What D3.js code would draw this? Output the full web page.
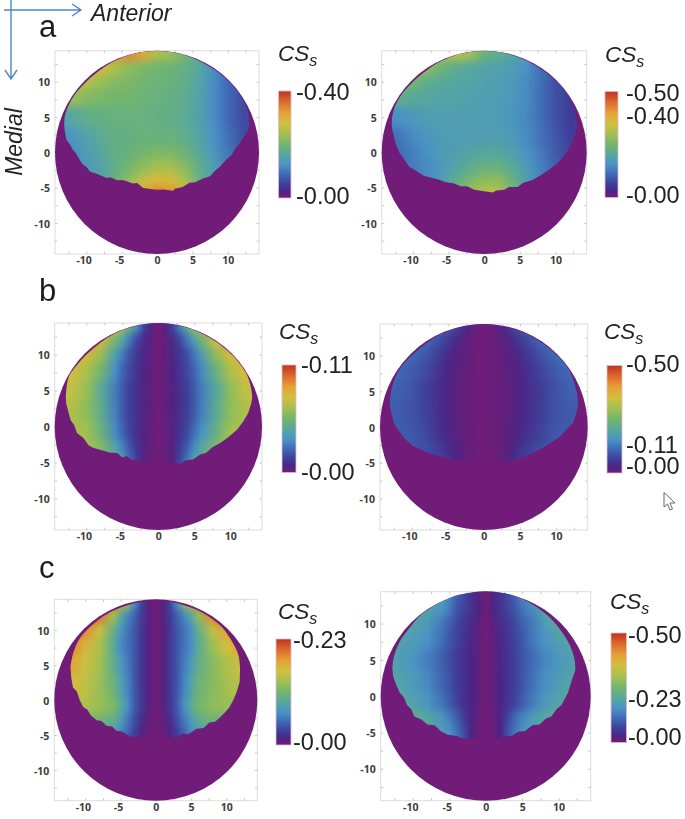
<!DOCTYPE html>
<html><head><meta charset="utf-8">
<script src="https://cdnjs.cloudflare.com/ajax/libs/d3/7.8.5/d3.min.js"></script>
<style>html,body{margin:0;padding:0;background:#fff}svg{display:block}text{font-family:"Liberation Sans",Arial,sans-serif}</style>
</head><body><div id="c"></div>
<script>
// --- palette: position along the bar (0..1) and colour
const barPositions=[0,.06,.13,.22,.31,.40,.50,.60,.70,.80,.90,1];
const barColors=["#701c78","#4d2484","#3f3f9a","#4069b4","#4a93c6","#55a79f","#72b56e","#a3c050","#d1c03e","#e5a036","#da6a2c","#c2321f"];

// --- shared x grid for the fields (mm)
const colsSmooth=[-14,-12,-10,-8,-6,-4,-2,0,2,4,6,8,10,12,14];
const colsFine=[-14,-12,-10,-8,-6,-5,-4,-3,-2,-1,0,1,2,3,4,5,6,8,10,12,14];
const rowsA=[14,12,10,8,5,2,0,-2,-4,-5.5];
const rowsBC=[14,12,10,8,5,2,-1,-3,-5];

// --- field values, percent of each group's peak |CSs|
const peakA=0.40, peakB=0.11, peakC=0.23, peakD=0.50;
const fieldA=[
[82,82,82,82,82,84,78,62,58,50,42,32,25,20,18],
[72,72,72,72,62,56,52,50,48,45,40,30,24,18,16],
[64,64,64,58,54,52,50,48,47,44,38,30,22,18,16],
[58,58,54,52,50,50,48,47,46,43,38,30,22,16,14],
[38,40,44,46,47,47,47,46,45,42,37,30,22,16,14],
[30,32,38,42,45,46,47,47,47,44,38,31,24,17,14],
[28,30,35,40,45,47,50,52,52,48,41,33,25,19,15],
[28,30,34,38,44,50,56,60,60,54,44,35,27,20,16],
[28,30,34,38,46,56,66,72,72,60,46,36,28,20,16],
[28,30,34,38,48,60,76,84,82,66,48,36,28,20,16]];
const fieldB=[
[90,90,90,90,72,60,46,30,14,5,0,4,14,28,44,58,70,90,90,90,90],
[85,85,85,72,50,38,25,14,8,3,0,3,8,14,25,36,48,70,85,85,85],
[80,80,72,58,36,26,17,11,7,3,0,3,7,11,16,25,35,56,72,80,80],
[74,72,62,50,30,21,15,10,6,3,0,3,6,10,15,21,29,47,62,72,74],
[68,66,58,42,26,19,13,9,5,3,0,3,5,9,13,19,26,40,56,66,68],
[64,62,56,44,27,19,13,9,5,3,0,3,5,9,13,19,27,42,56,62,64],
[62,62,60,48,29,21,14,9,5,2,0,2,5,10,15,23,31,46,60,62,62],
[60,60,60,54,38,28,18,11,5,2,0,2,5,12,20,30,40,54,60,60,60],
[58,58,58,56,46,36,24,13,4,1,0,1,4,15,26,38,48,56,58,58,58]];
const fieldC=[
[98,98,98,98,90,78,58,30,14,4,0,4,14,30,56,76,88,98,98,98,98],
[98,98,98,88,60,42,28,20,12,4,0,4,12,20,28,40,56,84,98,98,98],
[92,92,84,68,46,32,25,18,11,4,0,4,11,18,24,30,44,66,80,92,95],
[86,84,74,62,42,30,24,18,11,4,0,4,11,18,24,30,42,58,70,80,85],
[80,78,68,60,44,34,26,18,11,4,0,4,11,18,26,34,44,54,62,68,72],
[74,72,66,58,48,38,28,18,11,4,0,4,11,18,28,38,48,54,60,64,66],
[64,62,62,58,52,42,30,19,11,4,0,4,11,19,30,42,50,56,58,58,58],
[46,46,48,50,44,34,25,16,8,2,0,2,8,16,25,34,42,48,46,46,46],
[30,30,30,32,32,28,20,12,4,1,0,1,4,12,20,28,32,32,30,30,30]];
const fieldD=[
[38,38,38,38,34,28,20,15,10,5,0,5,10,15,20,28,34,42,42,42,42],
[38,38,38,38,32,26,18,14,10,6,0,6,10,14,18,24,28,38,42,42,42],
[40,40,38,34,25,20,15,11,8,4,0,4,8,11,15,20,24,34,42,44,44],
[38,38,35,31,23,18,14,10,7,3,0,3,7,10,14,18,23,31,37,40,40],
[38,36,32,27,20,16,12,9,6,3,0,3,7,10,13,17,21,28,33,37,38],
[40,38,34,29,21,17,12,9,6,3,0,3,6,10,13,18,22,30,35,39,40],
[42,41,37,32,24,19,14,9,6,3,0,3,6,10,14,19,24,33,38,41,42],
[44,44,44,40,33,27,20,13,6,2,0,2,6,14,22,28,33,40,44,44,44],
[44,44,44,42,35,31,24,16,6,1,0,1,6,17,25,31,35,42,44,44,44]];

// --- lens outlines in mm: upper arc (smooth) then lower edge (jagged), one per panel
const arcTop=[[11.7,8.2],[10.4,9.8],[8.7,11.3],[6.5,12.7],[4.2,13.7],[2,14.2],[0,14.35],[-2,14.2],[-4.2,13.7],[-6.5,12.7],[-8.5,11.3],[-10.3,9.7],[-11.6,8.2]];
const upperAL=[[13.05,4],[12.95,5.2],[12.6,6.6],...arcTop,[-12.5,6.6],[-13,5.2],[-13.1,4]];
const lowerAL=[[-13.05,3.2],[-12.8,1.8],[-12.3,1.1],[-11.9,.4],[-11.4,-.2],[-10.9,-1.1],[-10.5,-1.7],[-9.9,-2.1],[-9.5,-2.7],[-8.6,-3],[-7.2,-3.6],[-6.5,-3.55],[-5.6,-3.95],[-4.9,-3.9],[-4.3,-4.1],[-3.4,-4.4],[-2.8,-4.35],[-2,-5],[-1,-5.2],[0,-5.3],[1,-5.25],[2.3,-5.45],[2.5,-5.15],[3.6,-4.9],[4.6,-4.3],[5.4,-4.25],[6.5,-3.7],[7.5,-3.4],[8,-2.8],[8.9,-2],[9.8,-1],[10.6,-.3],[11.1,.6],[11.7,1.3],[12.3,2.3],[12.9,3.2]];
const upperAR=[[13.05,3.6],[12.9,5],[12.5,6.6],...arcTop,[-12.5,6.6],[-12.9,5.2],[-13,4]];
const lowerAR=[[-12.9,3.2],[-12.5,1.4],[-12,.1],[-11.5,-.6],[-10.6,-2],[-9.6,-2.6],[-8.5,-3.3],[-7.4,-3.6],[-6.2,-3.9],[-5.5,-4.2],[-4.2,-4.4],[-3.3,-4.8],[-2.4,-4.8],[-1.4,-5.3],[0,-5.5],[1.2,-5.7],[1.7,-5.4],[2.8,-5.3],[3.5,-4.9],[4.7,-4.9],[5.5,-4.3],[6.8,-3.9],[8,-3.2],[9.2,-2.4],[10.3,-1.5],[11.2,-.5],[12.2,1],[12.8,2.6]];
const upperBL=[[13.05,4],[12.9,5.3],[12.4,7],...arcTop,[-12.4,7],[-12.75,5.5],[-12.85,4]];
const lowerBL=[[-12.8,3.2],[-12.2,.9],[-11.7,.2],[-11.3,-.9],[-10.4,-1.6],[-9.7,-2.6],[-9,-3],[-7.8,-3.3],[-6.8,-3.6],[-5.7,-3.7],[-5,-4.3],[-4.4,-4.1],[-3.6,-4.7],[-3,-4.5],[-2.2,-5],[-.9,-5.1],[.7,-5.1],[1.8,-5],[3,-5.2],[3.8,-4.7],[4.8,-4.6],[5.8,-3.9],[6.6,-3.7],[7.6,-2.8],[8.6,-2.3],[9.7,-1.5],[10.9,-.5],[11.8,.7],[12.5,1.9],[12.9,3.2]];
const upperBR=[[13.05,3.2],[12.9,4.8],[12.4,6.6],...arcTop,[-12.4,6.6],[-12.9,4.8],[-13.05,3.2]];
const lowerBR=[[-12.9,2.2],[-12.4,.4],[-11.9,-.4],[-11,-1.6],[-9.8,-2.7],[-8,-3.5],[-6.1,-4.1],[-4.4,-4.5],[-2.4,-4.8],[0,-5],[3.1,-5],[5.5,-4.2],[7.8,-3.1],[9.3,-2.2],[10.6,-1.3],[11.6,-.2],[12.4,.6],[12.9,2.2]];
const upperCL=[[11.95,4.5],[11.7,6.5],[10.5,8.9],[9.2,10.6],[7.7,11.8],[5.8,12.9],[3.9,13.6],[2,14.05],[0,14.2],[-2,14.05],[-3.9,13.6],[-6,12.8],[-8,11.6],[-9.5,10.3],[-10.8,8.8],[-11.7,6.8],[-12.1,4.8]];
const lowerCL=[[-12,3.2],[-11.75,1.8],[-11.2,1.2],[-10.8,0],[-10.3,-1],[-9.7,-1.4],[-9.2,-2.2],[-8.4,-2.9],[-7.7,-3],[-7,-3.7],[-6.2,-3.8],[-5.6,-4.4],[-4.8,-4.5],[-4,-5],[-3.2,-5.3],[-.6,-5.4],[1,-5.4],[2.9,-5.4],[3.8,-4.8],[4.6,-4.9],[5.8,-4.1],[6.8,-4],[7.6,-3.2],[8.4,-3.1],[9.1,-2.5],[9.8,-1.8],[10.4,-1.1],[11,0],[11.5,1.2],[11.9,2.6]];
const upperCR=[[12.3,3.6],[12.2,5],[11.6,6.9],[10.4,8.9],[8.6,11],[6.5,12.6],[4,13.8],[2,14.3],[0,14.45],[-2,14.3],[-4.3,13.8],[-6.8,12.6],[-8.9,11.2],[-10.6,9.2],[-11.8,7.5],[-12.6,5.4],[-12.8,3.8]];
const lowerCR=[[-12.7,2.8],[-12.3,1.6],[-11.8,.5],[-11.2,-.2],[-10.8,-1.2],[-10.2,-1.8],[-9.8,-2.8],[-8.8,-3.2],[-8,-3.9],[-7,-4],[-6.2,-4.8],[-5.2,-5.3],[-4,-5.5],[-3,-5.9],[-2,-5.9],[1.7,-5.9],[2.8,-5.5],[3.6,-5.5],[4.4,-4.9],[5.4,-4.8],[6.4,-4],[7.4,-3.9],[8.2,-3.1],[9,-2.8],[9.7,-1.8],[10.4,-1.2],[11.3,.5],[11.8,2.2]];

// --- axis and colour bar labels
const axisTicks=[-10,-5,0,5,10];
const minorTicks=d3.range(-12.5,13,2.5);
const groupNames=["a","b","c"];
const labelsAL=[0.40,0], labelsAR=[0.50,0.40,0], labelsBL=[0.11,0], labelsBR=[0.50,0.11,0], labelsCL=[0.23,0], labelsCR=[0.50,0.23,0];

const fields={A:{cols:colsSmooth,rows:rowsA,vals:fieldA,peak:peakA},
              B:{cols:colsFine,rows:rowsBC,vals:fieldB,peak:peakB},
              C:{cols:colsFine,rows:rowsBC,vals:fieldC,peak:peakC},
              D:{cols:colsFine,rows:rowsBC,vals:fieldD,peak:peakD}};

// layout of the six panels (pixels); top is the |CSs| at the red end of the colour mapping
const panels=[
 {f:"A",top:.40,upper:upperAL,lower:lowerAL,labels:labelsAL,fx:[55,259],fy:[50.7,254],bx:[278.5,291],by:[91,198],lx:296,ly:[92,196],cx:278,cy:61},
 {f:"A",top:.52,upper:upperAR,lower:lowerAR,labels:labelsAR,fx:[381.7,586.7],fy:[50.7,254],bx:[605,618],by:[91.5,197.5],lx:626,ly:[93,116,195],cx:605,cy:62},
 {f:"B",top:.11,upper:upperBL,lower:lowerBL,labels:labelsBL,fx:[54.7,262],fy:[323,530],bx:[282,296],by:[365,472.5],lx:301,ly:[365,472],cx:279,cy:339},
 {f:"B",top:.36,upper:upperBR,lower:lowerBR,labels:labelsBR,fx:[380,587.7],fy:[324,530],bx:[607,622],by:[365.5,473],lx:626,ly:[364,445,466],cx:604,cy:339},
 {f:"C",top:.23,upper:upperCL,lower:lowerCL,labels:labelsCL,fx:[54.3,257.3],fy:[599.3,800.7],bx:[276,291],by:[639,745],lx:293,ly:[640,742],cx:278,cy:619},
 {f:"D",top:.50,upper:upperCR,lower:lowerCR,labels:labelsCR,fx:[380.7,590.7],fy:[591.7,800.7],bx:[611,626.5],by:[633,742.5],lx:628,ly:[635,699,737],cx:610,cy:609}
];
const letters=[{t:groupNames[0],y:37},{t:groupNames[1],y:301},{t:groupNames[2],y:578}];

const W=685,H=819;
const svg=d3.select("#c").append("svg").attr("width",W).attr("height",H);
const defs=svg.append("defs");
const soft=defs.append("filter").attr("id","soft").attr("x","-5%").attr("y","-5%").attr("width","110%").attr("height","110%");
soft.append("feGaussianBlur").attr("stdDeviation",0.5).attr("color-interpolation-filters","sRGB");
const textSoft=defs.append("filter").attr("id","tsoft").attr("x","-5%").attr("y","-10%").attr("width","110%").attr("height","120%");
textSoft.append("feGaussianBlur").attr("stdDeviation",0.3).attr("color-interpolation-filters","sRGB");

const barScale=d3.scaleLinear().domain(barPositions).range(barColors).interpolate(d3.interpolateRgb).clamp(true);
const lineSmooth=d3.line().curve(d3.curveCatmullRom);
const lineJag=d3.line();

panels.forEach((p,pi)=>{
  const fd=fields[p.f];
  const x=d3.scaleLinear().domain([-14.4,14.4]).range(p.fx);
  const y=d3.scaleLinear().domain([-14.4,14.4]).range([p.fy[1],p.fy[0]]);
  const color=v=>barScale(v/p.top);
  const g=svg.append("g");

  // frame
  g.append("rect").attr("x",p.fx[0]).attr("y",p.fy[0]).attr("width",p.fx[1]-p.fx[0]).attr("height",p.fy[1]-p.fy[0])
    .attr("fill","none").attr("stroke","#dcdcdc").attr("stroke-width",1);
  const minorB=d3.axisBottom(x).tickValues(minorTicks).tickSize(-2.5).tickFormat("");
  const minorT=d3.axisTop(x).tickValues(minorTicks).tickSize(-2.5).tickFormat("");
  const minorL=d3.axisLeft(y).tickValues(minorTicks).tickSize(-2.5).tickFormat("");
  const minorR=d3.axisRight(y).tickValues(minorTicks).tickSize(-2.5).tickFormat("");
  [[minorB,0,p.fy[1]],[minorT,0,p.fy[0]],[minorL,p.fx[0],0],[minorR,p.fx[1],0]].forEach(([a,tx,ty])=>{
    const ag=g.append("g").attr("transform",`translate(${tx},${ty})`).call(a);
    ag.select(".domain").remove();
    ag.selectAll("line").attr("stroke","#c8c8c8");
  });
  // tick labels
  const ax=g.append("g").attr("transform",`translate(0,${p.fy[1]})`).call(d3.axisBottom(x).tickValues(axisTicks).tickSize(0).tickPadding(3).tickFormat(d3.format("d")));
  const ay=g.append("g").attr("transform",`translate(${p.fx[0]},0)`).call(d3.axisLeft(y).tickValues(axisTicks).tickSize(0).tickPadding(5).tickFormat(d3.format("d")));
  [ax,ay].forEach(a=>{a.select(".domain").remove();
    a.selectAll("text").attr("fill","#3c3c3c").style("font-family","'Open Sans','Liberation Sans',sans-serif").style("font-weight",700).style("font-size","10.5px").text(d=>d);});
  ax.selectAll("text").attr("dx",d=>d<0?-2.5:0);
  ay.selectAll("text").attr("transform","translate(0,0.8)");

  // disc + heat field
  const heat=g.append("g").attr("filter","url(#soft)");
  heat.append("ellipse").attr("cx",x(0)).attr("cy",y(0)).attr("rx",x(14.4)-x(0)).attr("ry",y(0)-y(14.4)).attr("fill",barColors[0]);

  const clipId="lens"+pi;
  const toPx=([a,b])=>[x(a),y(b)];
  const up=lineSmooth(p.upper.map(toPx)), lo=lineJag(p.lower.map(toPx));
  defs.append("clipPath").attr("id",clipId).append("path").attr("d",up+"L"+lo.slice(1)+"Z");
  const blurId="rowBlur"+pi;
  const fb=defs.append("filter").attr("id",blurId).attr("filterUnits","userSpaceOnUse")
    .attr("x",p.fx[0]-30).attr("y",p.fy[0]-30).attr("width",p.fx[1]-p.fx[0]+60).attr("height",p.fy[1]-p.fy[0]+60);
  fb.append("feGaussianBlur").attr("stdDeviation","0 4.5").attr("color-interpolation-filters","sRGB");
  const stack=heat.append("g").attr("clip-path",`url(#${clipId})`).append("g").attr("filter",`url(#${blurId})`);

  fd.rows.forEach((ry,ri)=>{
    const gid=`g${pi}_${ri}`;
    const lg=defs.append("linearGradient").attr("id",gid).attr("gradientUnits","userSpaceOnUse")
      .attr("x1",x(fd.cols[0])).attr("x2",x(fd.cols[fd.cols.length-1])).attr("y1",0).attr("y2",0);
    const col=d3.scaleLinear().domain(d3.extent(fd.cols)).range([0,1]);
    fd.vals[ri].forEach((pct,ci)=>{
      lg.append("stop").attr("offset",col(fd.cols[ci])).attr("stop-color",color(pct/100*fd.peak));
    });
    const yTop=ri===0?17:(fd.rows[ri-1]+ry)/2;
    const yBot=ri===fd.rows.length-1?-9:(fd.rows[ri+1]+ry)/2;
    stack.append("rect").attr("x",x(-15)).attr("width",x(15)-x(-15))
      .attr("y",y(yTop)).attr("height",y(yBot)-y(yTop)+0.5).attr("fill",`url(#${gid})`);
  });

  // colour bar
  const bid="bar"+pi;
  const bg=defs.append("linearGradient").attr("id",bid).attr("x1",0).attr("x2",0).attr("y1",1).attr("y2",0);
  barPositions.forEach((o,i)=>bg.append("stop").attr("offset",o).attr("stop-color",barColors[i]));
  g.append("rect").attr("x",p.bx[0]).attr("y",p.by[0]).attr("width",p.bx[1]-p.bx[0]).attr("height",p.by[1]-p.by[0])
    .attr("fill",`url(#${bid})`).attr("stroke","#e3b9d4").attr("stroke-width",.8).attr("filter","url(#soft)");

  // colour bar labels
  const txt=g.append("g").attr("filter","url(#tsoft)");
  txt.selectAll("text.v").data(p.labels).join("text").attr("class","v")
    .attr("x",p.lx).attr("y",(d,i)=>p.ly[i]).attr("dy","0.36em")
    .attr("font-size",23.5).attr("fill","#222").text(d=>"-"+d.toFixed(2));
  const t=txt.append("text").attr("x",p.cx).attr("y",p.cy).attr("fill","#222").attr("font-style","italic").attr("font-size",22.5);
  t.append("tspan").text("CS");
  t.append("tspan").attr("font-size",16).attr("dy",5).text("s");
});

// group letters
const tg=svg.append("g").attr("filter","url(#tsoft)");
tg.selectAll("text.l").data(letters).join("text").attr("class","l").attr("x",39).attr("y",d=>d.y)
  .attr("font-size",31).attr("fill","#1c1c1c").text(d=>d.t);
tg.append("text").attr("x",91).attr("y",21).attr("font-size",23).attr("font-style","italic").attr("fill","#222").text("Anterior");
tg.append("text").attr("transform","translate(22,142) rotate(-90)").attr("text-anchor","middle").attr("font-size",23).attr("font-style","italic").attr("fill","#222").text("Medial");

// orientation arrows
const arrows=svg.append("g").attr("fill","none").attr("stroke","#4f86c6").attr("stroke-width",1.4);
arrows.append("path").attr("d","M4,10H81M72,4L81,10L72,16");
arrows.append("path").attr("d","M11,0V79M5,70L11,79L17,70");

// stray mouse pointer in the source figure
svg.append("path").attr("d","M664,492.5V507L667.5,504L670,510L672.5,509L670,503H675Z")
  .attr("fill","#fff").attr("stroke","#666").attr("stroke-width",1).attr("filter","url(#tsoft)");
</script></body></html>
